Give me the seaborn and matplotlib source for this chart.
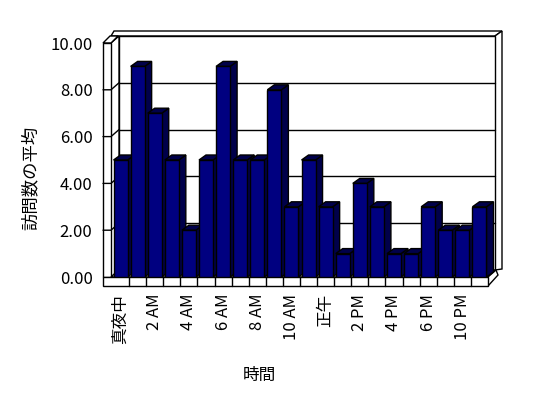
import matplotlib
matplotlib.use("Agg")
import matplotlib.pyplot as plt
from matplotlib.patches import Polygon
from matplotlib.lines import Line2D
from matplotlib.transforms import IdentityTransform
import seaborn as sns
import pandas as pd

# data
hours = ['真夜中', '1 AM', '2 AM', '3 AM', '4 AM', '5 AM', '6 AM', '7 AM', '8 AM', '9 AM',
         '10 AM', '11 AM', '正午', '1 PM', '2 PM', '3 PM', '4 PM', '5 PM', '6 PM', '7 PM',
         '10 PM', '11 PM']
visits = [5, 9, 7, 5, 2, 5, 9, 5, 5, 8, 3, 5, 3, 1, 4, 3, 1, 1, 3, 2, 2, 3]
yticks = [0, 2, 4, 6, 8, 10]

sns.set_theme(style='white')
plt.rcParams['font.family'] = ['Noto Sans CJK JP', 'DejaVu Sans']
plt.rcParams['font.size'] = 12

W, H = 548, 398
fig = plt.figure(figsize=(W / 100, H / 100), dpi=100)
fig.patch.set_facecolor('white')
ax = fig.add_axes([112 / W, (H - 277) / H, 376 / W, 234 / H])

df = pd.DataFrame({'hour': hours, 'visits': visits})
sns.barplot(data=df, x='hour', y='visits', order=hours, color='#000080', saturation=1,
            width=0.82, edgecolor='black', linewidth=1, ax=ax)
bars = list(ax.patches)
ax.set_xlim(-0.5, len(hours) - 0.5)
ax.set_ylim(0, 10)
ax.patch.set_visible(False)
for s in ax.spines.values():
    s.set_visible(False)

# helpers for the fake 3d frame (pixel offsets from the front plane)
def px(x, y):
    return ax.transData.transform((x, y))

def poly(pts, z, fc='white', lw=1):
    p = Polygon(pts, closed=True, facecolor=fc, edgecolor='black', linewidth=lw,
                transform=IdentityTransform(), clip_on=False, zorder=z)
    ax.add_patch(p)

def line(xs, ys, z):
    ax.add_line(Line2D(xs, ys, color='black', linewidth=1, transform=IdentityTransform(),
                       clip_on=False, zorder=z))

x0, y0 = px(-0.5, 0)
x1, y1 = px(len(hours) - 0.5, 10)
bx, by = 7, 7       # back plane offset
wt = 9              # wall / floor thickness

# back wall
poly([(x0 - 1, y1 + by), (x1 + bx, y1 + by), (x1 + 2 * bx, y1 + 2 * by - 2), (x0 + 2, y1 + 2 * by - 2)], 0.5)
poly([(x1 + bx, y1 + by), (x1 + 2 * bx, y1 + 2 * by - 2), (x1 + 2 * bx, y0 + by + 1), (x1 + bx, y0 + by)], 0.5)
poly([(x0 + bx, y0 + by), (x1 + bx, y0 + by), (x1 + bx, y1 + by), (x0 + bx, y1 + by)], 0.6)
# left wall
poly([(x0 - 1, y0), (x0 - 1, y1), (x0 + bx, y1 + by), (x0 + bx, y0 + by)], 0.7)
poly([(x0 - wt, y1), (x0 - 1, y1), (x0 + bx - 1, y1 + by), (x0 - wt + bx, y1 + by)], 0.8)
poly([(x0 - wt, y0), (x0 - 1, y0), (x0 - 1, y1), (x0 - wt, y1)], 0.8)
# gridlines on walls
for t in yticks[1:-1]:
    _, yt = px(0, t)
    line([x0 + bx, x1 + bx], [yt + by, yt + by], 0.65)
    line([x0 - wt, x0 - 1, x0 + bx], [yt, yt, yt + by], 0.85)
# floor
poly([(x0 - 1, y0), (x1, y0), (x1 + bx + 1, y0 + by), (x0 + bx, y0 + by)], 1)
poly([(x1, y0), (x1, y0 - wt), (x1 + bx + 3, y0 - wt + 11), (x1 + bx + 1, y0 + by)], 1)
poly([(x0 - wt, y0), (x1, y0), (x1, y0 - wt), (x0 - wt, y0 - wt)], 1)
for i in range(len(hours) - 1):
    xb, _ = px(i + 0.5, 0)
    line([xb, xb], [y0, y0 - wt], 1.1)

# bars: give each a side and top face
dx, dy = 7, 5
for i, p in enumerate(bars):
    z = 2 + i * 0.01
    (lx, ly) = px(p.get_x(), 0)
    (rx, ry) = px(p.get_x() + p.get_width(), p.get_height())
    poly([(rx, ly), (rx, ry), (rx + dx, ry + dy), (rx + dx, ly + dy)], z, fc='#00004a')
    poly([(lx, ry), (rx, ry), (rx + dx, ry + dy), (lx + dx, ry + dy)], z, fc='#00004a')
    p.set_zorder(z + 0.005)

ax.set_yticks(yticks)
ax.set_yticklabels([f'{t:.2f}' for t in yticks])
ax.set_xticks(range(len(hours)))
ax.set_xticklabels([h if i % 2 == 0 else '' for i, h in enumerate(hours)], rotation=90)
ax.tick_params(axis='y', length=0, pad=14, labelsize=12, colors='black')
ax.tick_params(axis='x', length=0, pad=12, labelsize=12, colors='black')
for lab in ax.get_xticklabels():
    lab.set_va('top')

ax.set_xlabel('時間', fontsize=12, color='black')
ax.set_ylabel('訪問数の平均', fontsize=12.5, color='black')
ax.xaxis.set_label_coords((259 - 112) / 376, (277 - 367) / 234)
ax.yaxis.set_label_coords((40 - 112) / 376, (277 - 178) / 234)

fig.savefig('out.png', dpi=100)
